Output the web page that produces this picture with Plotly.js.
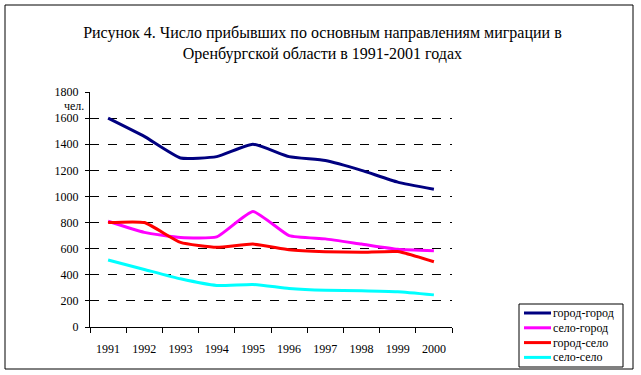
<!DOCTYPE html>
<html>
<head>
<meta charset="utf-8">
<script src="https://cdn.plot.ly/plotly-3.0.1.min.js"></script>
<style>html,body{margin:0;padding:0;background:#fff;}#chart{width:641px;height:375px;}</style>
</head>
<body>
<div id="chart"></div>
<script>
const years = ['1991','1992','1993','1994','1995','1996','1997','1998','1999','2000'];
const gorodGorod = [1600, 1460, 1295, 1305, 1400, 1305, 1275, 1200, 1110, 1055];
const seloGorod  = [810, 725, 685, 690, 885, 700, 675, 635, 595, 585];
const gorodSelo  = [800, 800, 648, 610, 635, 592, 577, 572, 578, 500];
const seloSelo   = [513, 441, 369, 318, 326, 295, 281, 278, 270, 246];
const seriesNames = ['город-город', 'село-город', 'город-село', 'село-село'];
const yTicks = [0, 200, 400, 600, 800, 1000, 1200, 1400, 1600, 1800];

const colors = ['#000080', '#FF00FF', '#FF0000', '#00FFFF'];
const values = [gorodGorod, seloGorod, gorodSelo, seloSelo];
const serif = 'Liberation Serif';

const traces = values.map((v, i) => ({
  x: years, y: v, type: 'scatter', mode: 'lines', name: seriesNames[i],
  line: {color: colors[i], width: 3, shape: 'spline', smoothing: 0.45},
  showlegend: false
}));

const px = p => (p - 90) / 362;
const py = p => (327 - p) / 235;

// legend drawn in paper space (box, line samples, labels)
const legendShapes = [{
  type: 'rect', xref: 'paper', yref: 'paper',
  x0: px(519), x1: px(623), y0: py(367), y1: py(304),
  line: {color: '#000', width: 1}, fillcolor: '#fff', layer: 'above'
}];
const legendAnn = [];
seriesNames.forEach((n, i) => {
  const yc = 313 + i * 14.8;
  legendShapes.push({
    type: 'line', xref: 'paper', yref: 'paper',
    x0: px(524), x1: px(551), y0: py(yc), y1: py(yc),
    line: {color: colors[i], width: 3}, layer: 'above'
  });
  legendAnn.push({
    text: n, xref: 'paper', yref: 'paper', x: px(551), y: py(yc),
    xanchor: 'left', yanchor: 'middle', showarrow: false,
    font: {family: serif, size: 12, color: '#000'}
  });
});

const layout = {
  width: 641, height: 375,
  margin: {l: 90, r: 189, t: 92, b: 48, autoexpand: false},
  paper_bgcolor: '#fff', plot_bgcolor: '#fff',
  font: {family: serif, size: 12, color: '#000'},
  title: {
    text: 'Рисунок 4. Число прибывших по основным направлениям миграции в<br>Оренбургской области в 1991-2001 годах',
    font: {family: serif, size: 16, color: '#000'},
    x: 0.503, xref: 'container', xanchor: 'center',
    y: 1 - 38/375, yref: 'container', yanchor: 'top'
  },
  xaxis: {
    type: 'category', tickson: 'boundaries',
    ticks: 'outside', ticklen: 5, tickcolor: '#000', tickwidth: 1,
    showline: true, linecolor: '#000', linewidth: 1,
    showgrid: false, zeroline: false, ticklabelstandoff: 11,
    tickfont: {family: serif, size: 12, color: '#000'},
    range: [-0.5, 9.5], fixedrange: true
  },
  yaxis: {
    range: [0, 1800], tickvals: yTicks, ticktext: yTicks.map(String),
    ticks: 'outside', ticklen: 4, tickcolor: '#000', tickwidth: 1,
    showline: true, linecolor: '#000', linewidth: 1,
    showgrid: true, gridcolor: '#000', griddash: 'dash', gridwidth: 1,
    zeroline: false, ticklabelstandoff: 4,
    tickfont: {family: serif, size: 12, color: '#000'}
  },
  showlegend: false,
  annotations: [{
    text: 'чел.', xref: 'paper', yref: 'paper', x: px(86), y: py(106),
    xanchor: 'right', yanchor: 'middle', showarrow: false,
    font: {family: serif, size: 12, color: '#000'}
  }].concat(legendAnn),
  shapes: [{
    type: 'rect', xref: 'paper', yref: 'paper',
    x0: px(5), x1: px(633), y0: py(369), y1: py(5),
    line: {color: '#000', width: 1}, layer: 'above'
  }].concat(legendShapes)
};

Plotly.newPlot('chart', traces, layout, {displayModeBar: false, staticPlot: true});
</script>
</body>
</html>
